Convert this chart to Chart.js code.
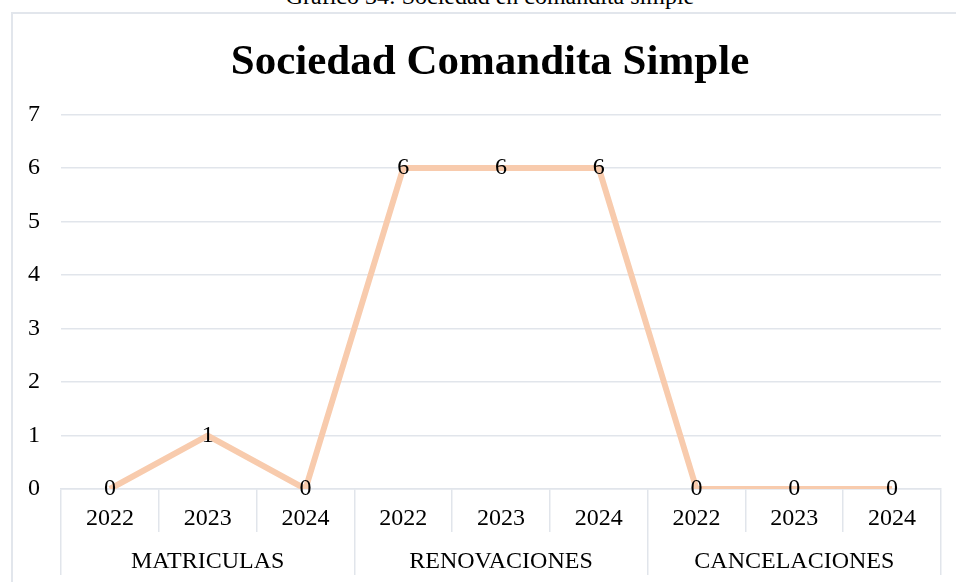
<!DOCTYPE html>
<html>
<head>
<meta charset="utf-8">
<script src="https://cdn.jsdelivr.net/npm/chart.js@4"></script>
<style>
html,body{margin:0;padding:0;width:956px;height:582px;overflow:hidden;background:#fff;}
#cap{position:absolute;left:0;width:980px;top:-16px;text-align:center;font-family:"Liberation Serif","Times New Roman",serif;font-size:24px;line-height:24px;color:#000;white-space:nowrap;}
#frame{position:absolute;left:11px;top:12px;width:970px;height:600px;border-left:2px solid #e2e6ec;border-top:2px solid #e2e6ec;}
#wrap{position:absolute;left:12px;top:13px;width:956px;height:569px;}
</style>
</head>
<body>
<div id="cap">Gráfico 34: Sociedad en comandita simple</div>
<div id="frame"></div>
<div id="wrap"><canvas id="c" width="956" height="569"></canvas></div>
<script>
const years = ['2022','2023','2024','2022','2023','2024','2022','2023','2024'];
const groups = ['MATRICULAS','RENOVACIONES','CANCELACIONES'];
const values = [0,1,0,6,6,6,0,0,0];
const yTicks = [0,1,2,3,4,5,6,7];

const FONT = '"Liberation Serif","Times New Roman",serif';
const GRID = '#e1e5eb';

const valueLabels = {
  id:'valueLabels',
  afterDatasetsDraw(chart){
    const ctx = chart.ctx;
    const meta = chart.getDatasetMeta(0);
    ctx.save();
    ctx.font = '24px ' + FONT;
    ctx.fillStyle = '#000';
    ctx.textAlign = 'center';
    ctx.textBaseline = 'middle';
    meta.data.forEach((pt,i)=>{
      ctx.fillText(String(values[i]), pt.x, pt.y);
    });
    ctx.restore();
  }
};

new Chart(document.getElementById('c'), {
  type:'line',
  data:{
    labels: years,
    datasets:[{
      data: values,
      borderColor:'#f8cbad',
      borderWidth:6,
      pointRadius:0,
      pointHoverRadius:0,
      tension:0,
      fill:false,
      borderJoinStyle:'round'
    }]
  },
  options:{
    responsive:false,
    animation:false,
    events:[],
    layout:{padding:{left:0,right:0,top:0,bottom:7}},
    plugins:{
      legend:{display:false},
      tooltip:{enabled:false},
      title:{
        display:true,
        text:'Sociedad Comandita Simple',
        color:'#000',
        font:{family:FONT,size:43,weight:'bold'},
        padding:{top:24,bottom:26}
      }
    },
    scales:{
      y:{
        min:0,max:7,
        afterBuildTicks(s){ s.ticks = yTicks.map(v=>({value:v})); },
        afterFit(s){ s.width = 49; },
        grid:{color:GRID,lineWidth:1.5,drawTicks:false},
        border:{display:false},
        ticks:{color:'#000',padding:21,font:{family:FONT,size:24}}
      },
      yRight:{
        type:'linear',
        position:'right',
        min:0,max:7,
        afterFit(s){ s.width = 27; },
        grid:{display:false,drawOnChartArea:false},
        border:{display:false},
        ticks:{display:false}
      },
      x:{
        position:'bottom',
        offset:true,
        afterFit(s){ s.height = 43; },
        grid:{offset:true,drawOnChartArea:false,drawTicks:true,tickLength:43,tickColor:GRID,lineWidth:1.5,color:GRID},
        border:{display:true,color:GRID,width:1.5},
        ticks:{color:'#000',padding:-28,maxRotation:0,autoSkip:false,font:{family:FONT,size:24}}
      },
      x2:{
        type:'category',
        labels: groups,
        position:'bottom',
        offset:true,
        afterFit(s){ s.height = 43; },
        grid:{offset:true,drawOnChartArea:false,drawTicks:true,tickLength:43,tickColor:GRID,lineWidth:1.5,color:GRID},
        border:{display:false},
        ticks:{color:'#000',padding:-28,maxRotation:0,autoSkip:false,font:{family:FONT,size:24}}
      }
    }
  },
  plugins:[valueLabels]
});
</script>
</body>
</html>
